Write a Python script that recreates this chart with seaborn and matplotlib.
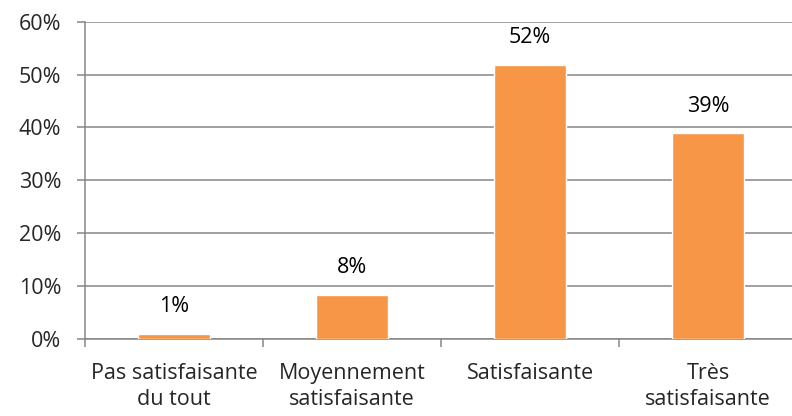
import numpy as np
import pandas as pd
import matplotlib
matplotlib.use("Agg")
import matplotlib.pyplot as plt
import seaborn as sns
from matplotlib.ticker import FixedLocator, PercentFormatter

# donnees
categories = ["Pas satisfaisante\ndu tout", "Moyennement\nsatisfaisante",
              "Satisfaisante", "Très\nsatisfaisante"]
values = [0.95, 8.3, 51.9, 38.9]
bar_labels = ["1%", "8%", "52%", "39%"]
y_ticks = [0, 10, 20, 30, 40, 50, 60]

sns.set_style("white")
plt.rcParams["font.family"] = ["Open Sans", "DejaVu Sans"]

grid_col = "#868686"
bar_col = "#F79646"
fs = 15.5

df = pd.DataFrame({"cat": categories, "val": values})

fig = plt.figure(figsize=(7.92, 4.16), dpi=100)
ax = fig.add_axes([85 / 792, 77 / 416, 712 / 792, 317.3 / 416])

sns.barplot(data=df, x="cat", y="val", color=bar_col, width=0.4,
            saturation=1, ax=ax, zorder=3)
ax.bar_label(ax.containers[0], labels=bar_labels, padding=12,
             fontsize=fs, color="#000000")

ax.set_ylim(0, 60)
ax.set_xlim(-0.5, len(categories) - 0.5)
ax.set_yticks(y_ticks)
ax.yaxis.set_major_formatter(PercentFormatter(decimals=0))
ax.yaxis.grid(True, color=grid_col, linewidth=1.1, zorder=0)
ax.set_axisbelow(True)

ax.xaxis.set_minor_locator(FixedLocator(np.arange(-0.5, len(categories), 1.0)))
ax.tick_params(axis="x", which="major", length=0, pad=17, labelsize=fs)
ax.tick_params(axis="x", which="minor", length=6, width=1.1, color=grid_col,
               direction="out", bottom=True)
ax.tick_params(axis="y", length=6, width=1.1, color=grid_col, left=True,
               pad=11, labelsize=fs)
for lab in ax.get_xticklabels():
    lab.set_linespacing(1.35)

for s in ["top", "right"]:
    ax.spines[s].set_visible(False)
for s in ["left", "bottom"]:
    ax.spines[s].set_color(grid_col)
    ax.spines[s].set_linewidth(1.1)

ax.set_xlabel("")
ax.set_ylabel("")

fig.savefig("out.png", dpi=100)
